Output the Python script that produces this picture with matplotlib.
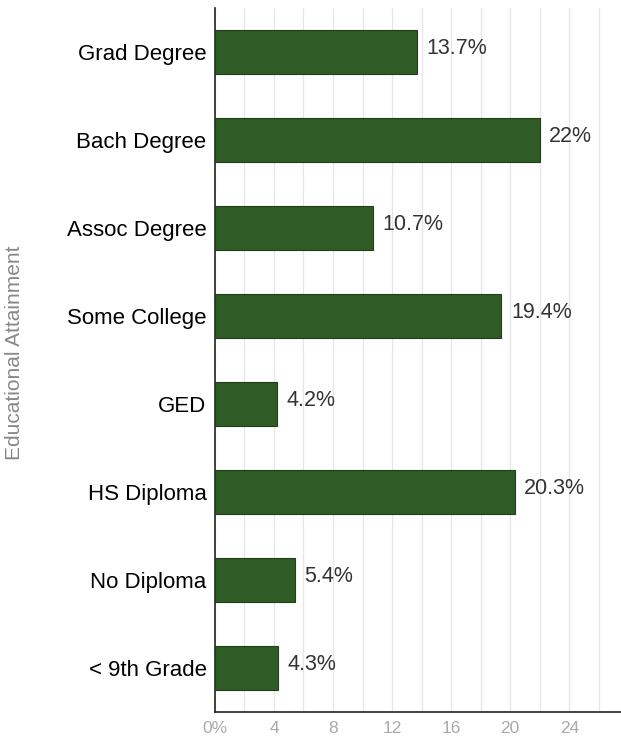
import numpy as np
import matplotlib
matplotlib.use("Agg")
import matplotlib.pyplot as plt

plt.rcParams["font.family"] = ["Liberation Sans", "DejaVu Sans"]

# Educational attainment shares (%), top to bottom as in the chart
categories = ["Grad Degree", "Bach Degree", "Assoc Degree", "Some College",
              "GED", "HS Diploma", "No Diploma", "< 9th Grade"]
values = [13.7, 22.0, 10.7, 19.4, 4.2, 20.3, 5.4, 4.3]
value_labels = ["13.7%", "22%", "10.7%", "19.4%", "4.2%", "20.3%", "5.4%", "4.3%"]
xticks = [0, 4, 8, 12, 16, 20, 24]
xtick_labels = ["0%", "4", "8", "12", "16", "20", "24"]

fig = plt.figure(figsize=(6.21, 7.39), dpi=100)
ax = fig.add_axes([0.346, 0.036, 0.654, 0.953])

y = np.arange(len(categories))[::-1]
ax.barh(y, values, height=0.5, color="#2f5b24", edgecolor="#1f3f18", lw=0.8, zorder=3)

for yi, v, lab in zip(y, values, value_labels):
    ax.text(v + 0.65, yi + 0.04, lab, va="center", ha="left", fontsize=15.5, color="#333333")

ax.set_xlim(0, 27.5)
ax.set_ylim(-0.5, 7.5)
ax.set_xticks(xticks)
ax.set_xticklabels(xtick_labels, fontsize=12.5, color="#aaaaaa")
ax.set_xticks(np.arange(2, 28, 2), minor=True)
ax.grid(True, axis="x", which="both", color="#e6e6e6", lw=0.9, zorder=0)
ax.set_yticks(y)
ax.set_yticklabels(categories, fontsize=16, color="#000000")
ax.tick_params(axis="both", which="both", length=0)
ax.tick_params(axis="y", pad=6)
ax.tick_params(axis="x", pad=6)

for side in ["top", "right"]:
    ax.spines[side].set_visible(False)
ax.spines["left"].set_color("#222222")
ax.spines["bottom"].set_color("#222222")
ax.spines["left"].set_linewidth(1.2)
ax.spines["bottom"].set_linewidth(1.2)

fig.text(0.024, 0.523, "Educational Attainment", rotation=90, va="center", ha="center",
         fontsize=15, color="#888888")

fig.savefig("out.png", dpi=100)
